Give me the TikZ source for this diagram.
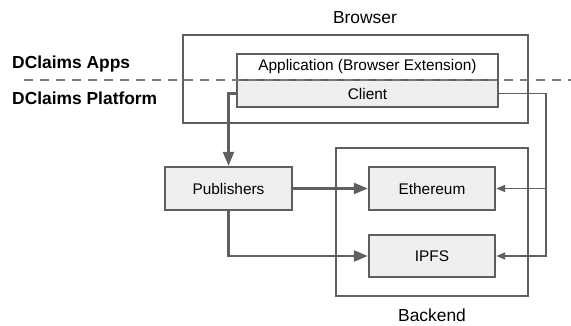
\documentclass[tikz,border=0pt]{standalone}
\usepackage{fontspec}
\setmainfont{Liberation Sans}
\usetikzlibrary{arrows.meta}
\definecolor{edge}{HTML}{5F5F5F}
\definecolor{boxfill}{HTML}{EFEFEF}
\definecolor{dashgray}{HTML}{7A7A7A}
\begin{document}
\begin{tikzpicture}[x=1pt,y=-1pt,
    frame/.style={draw=edge,line width=2.4pt,inner sep=0pt},
    part/.style={frame,fill=boxfill,font=\fontsize{15.4}{18}\selectfont},
    title/.style={font=\fontsize{17.4}{20}\selectfont},
    layer/.style={font=\fontsize{17.4}{20}\selectfont\bfseries,anchor=west,inner sep=0pt},
    flow/.style={draw=edge,line width=2.4pt,-{Triangle[length=14pt,width=11pt]}},
    feed/.style={draw=edge,line width=1.6pt,-{Triangle[length=9pt,width=7pt]}}]
        \useasboundingbox (0,0) rectangle (571,325);

        \node (browser) [frame,minimum width=345,minimum height=88] at (355.5,79) {};
        \node (browserlbl) [title] at (365,18) {Browser};

        \node (app)    [part,fill=white,minimum width=261,minimum height=26] at (367.5,67) {Application (Browser Extension)};
        \node (client) [part,minimum width=261,minimum height=27] at (367.5,93.5) {Client};

        \node (apps)     [layer] at (12,64) {DClaims Apps};
        \node (platform) [layer] at (12,98) {DClaims Platform};
        \coordinate (sepL) at (24,80);
        \coordinate (sepR) at (571,80);
        \draw [dashgray,line width=2.2pt,dash pattern=on 8.5pt off 7.5pt] (sepL) -- (sepR);

        \node (backend) [frame,minimum width=192,minimum height=148] at (432,222) {};
        \node (backendlbl) [title] at (432,315) {Backend};

        \node (pub)  [part,minimum width=127,minimum height=43] at (228.5,188.5) {Publishers};
        \node (eth)  [part,minimum width=126,minimum height=43] at (432,188.5) {Ethereum};
        \node (ipfs) [part,minimum width=126,minimum height=42] at (432,256) {IPFS};

        \coordinate (bus) at (546,93.5);

        \draw [flow] (client.west) -| (pub.north);
        \draw [flow] (pub.east) -- (eth.west);
        \draw [flow] (pub.south) |- (ipfs.west);
        \draw [feed] (client.east) -- (bus) -- (ipfs.east -| bus) -- (ipfs.east);
        \draw [feed] (eth.east -| bus) -- (eth.east);
      \end{tikzpicture}
\end{document}
